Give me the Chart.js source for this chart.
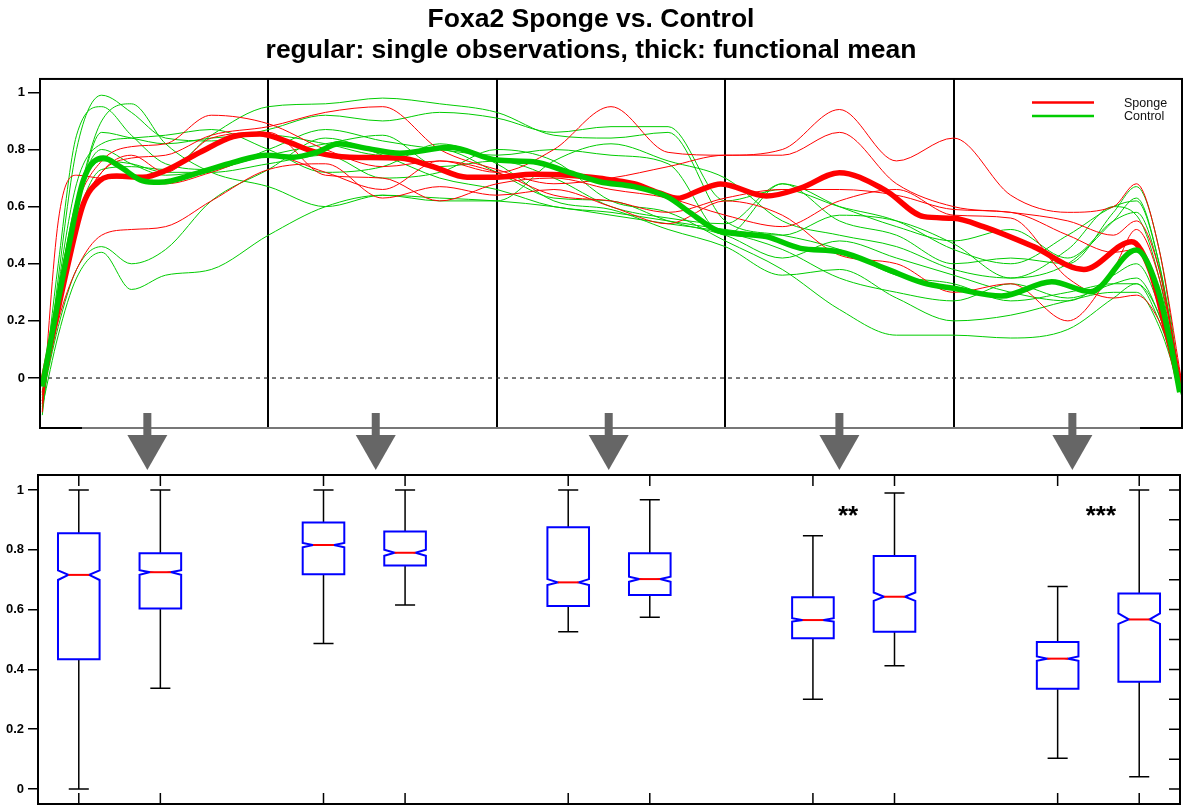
<!DOCTYPE html>
<html>
<head>
<meta charset="utf-8">
<title>Foxa2 Sponge vs. Control</title>
<script src="https://cdn.jsdelivr.net/npm/chart.js@4.4.0/dist/chart.umd.min.js"></script>
<style>
  body { margin: 0; background: #fff; }
  #wrap { position: relative; width: 1184px; height: 805px; }
  #curves { position: absolute; left: 0; top: 0; }
  #boxes { position: absolute; left: 0; top: 430px; }
</style>
</head>
<body>
<div id="wrap">
  <canvas id="curves" width="1184" height="475"></canvas>
  <canvas id="boxes" width="1184" height="375"></canvas>
</div>
<script>
// ---- top panel: curves, x in segment units (0..5) ----
var titleLines = ['Foxa2 Sponge vs. Control', 'regular: single observations, thick: functional mean'];
var segEdges = [0, 1, 2, 3, 4, 5];
var yTicksTop = [0, 0.2, 0.4, 0.6, 0.8, 1];
var arrowAt = [0.47, 1.47, 2.49, 3.5, 4.52];
var legendNames = ['Sponge', 'Control'];

var gridU = [0.01, 0.08, 0.16, 0.27, 0.4, 0.55, 0.75, 1, 1.25, 1.5, 1.75, 2, 2.25, 2.5, 2.75, 3, 3.25, 3.5, 3.75, 4, 4.25, 4.5, 4.7, 4.8, 4.9, 5];

var sponge = [
  [-0.08, 0.30, 0.60, 0.76, 0.81, 0.82, 0.92, 0.89, 0.80, 0.74, 0.76, 0.72, 0.80, 0.95, 0.79, 0.78, 0.80, 0.94, 0.76, 0.84, 0.64, 0.58, 0.60, 0.68, 0.45, -0.02],
  [-0.05, 0.25, 0.55, 0.72, 0.77, 0.78, 0.85, 0.88, 0.93, 0.95, 0.80, 0.73, 0.68, 0.70, 0.74, 0.78, 0.78, 0.86, 0.68, 0.60, 0.58, 0.55, 0.50, 0.55, 0.38, -0.04],
  [-0.12, 0.55, 0.71, 0.70, 0.70, 0.68, 0.72, 0.78, 0.72, 0.66, 0.76, 0.72, 0.64, 0.62, 0.58, 0.63, 0.66, 0.66, 0.64, 0.59, 0.58, 0.50, 0.44, 0.45, 0.30, -0.04],
  [-0.06, 0.20, 0.38, 0.50, 0.52, 0.53, 0.62, 0.73, 0.75, 0.63, 0.67, 0.64, 0.66, 0.60, 0.54, 0.62, 0.57, 0.43, 0.40, 0.30, 0.33, 0.20, 0.38, 0.52, 0.35, -0.02],
  [-0.09, 0.28, 0.55, 0.72, 0.78, 0.72, 0.84, 0.86, 0.71, 0.70, 0.62, 0.68, 0.70, 0.66, 0.63, 0.57, 0.53, 0.62, 0.66, 0.57, 0.56, 0.35, 0.28, 0.29, 0.20, -0.02]
];

var control = [
  [-0.13, 0.35, 0.80, 0.99, 0.93, 0.84, 0.83, 0.87, 0.92, 0.90, 0.93, 0.91, 0.86, 0.88, 0.88, 0.62, 0.66, 0.60, 0.55, 0.45, 0.40, 0.50, 0.60, 0.62, 0.40, -0.05],
  [-0.08, 0.40, 0.85, 0.95, 0.85, 0.75, 0.73, 0.80, 0.87, 0.83, 0.80, 0.78, 0.80, 0.78, 0.75, 0.50, 0.68, 0.55, 0.50, 0.40, 0.42, 0.40, 0.58, 0.67, 0.45, -0.06],
  [-0.06, 0.25, 0.60, 0.90, 0.96, 0.82, 0.72, 0.67, 0.60, 0.64, 0.62, 0.62, 0.76, 0.82, 0.76, 0.70, 0.55, 0.50, 0.46, 0.38, 0.35, 0.45, 0.60, 0.57, 0.35, -0.07],
  [-0.05, 0.22, 0.58, 0.86, 0.84, 0.82, 0.84, 0.85, 0.82, 0.78, 0.80, 0.72, 0.63, 0.62, 0.55, 0.50, 0.42, 0.48, 0.42, 0.36, 0.30, 0.27, 0.36, 0.40, 0.25, -0.05],
  [-0.09, 0.25, 0.55, 0.73, 0.74, 0.73, 0.85, 0.95, 0.96, 0.98, 0.96, 0.93, 0.85, 0.84, 0.86, 0.55, 0.50, 0.45, 0.36, 0.33, 0.27, 0.30, 0.33, 0.33, 0.20, -0.04],
  [-0.07, 0.18, 0.38, 0.46, 0.40, 0.45, 0.62, 0.73, 0.84, 0.78, 0.70, 0.66, 0.60, 0.58, 0.55, 0.52, 0.50, 0.57, 0.55, 0.47, 0.35, 0.40, 0.55, 0.63, 0.40, -0.06],
  [-0.10, 0.15, 0.35, 0.44, 0.31, 0.36, 0.38, 0.50, 0.60, 0.64, 0.63, 0.62, 0.60, 0.57, 0.54, 0.51, 0.45, 0.35, 0.30, 0.27, 0.33, 0.28, 0.33, 0.35, 0.22, -0.05],
  [-0.05, 0.30, 0.62, 0.76, 0.75, 0.72, 0.72, 0.75, 0.78, 0.70, 0.72, 0.80, 0.76, 0.62, 0.58, 0.48, 0.38, 0.24, 0.15, 0.15, 0.14, 0.17, 0.28, 0.33, 0.22, -0.06],
  [-0.08, 0.28, 0.62, 0.80, 0.75, 0.71, 0.73, 0.78, 0.82, 0.85, 0.74, 0.76, 0.70, 0.60, 0.56, 0.54, 0.68, 0.60, 0.53, 0.48, 0.52, 0.42, 0.55, 0.58, 0.38, -0.07],
  [-0.11, 0.32, 0.68, 0.82, 0.84, 0.85, 0.87, 0.80, 0.72, 0.74, 0.82, 0.75, 0.62, 0.59, 0.52, 0.46, 0.36, 0.38, 0.28, 0.20, 0.22, 0.27, 0.30, 0.30, 0.18, -0.06]
];

// functional means
var meanRedU = [0.01, 0.117, 0.19, 0.26, 0.336, 0.45, 0.555, 0.70, 0.846, 0.963, 1.065, 1.21, 1.357, 1.576, 1.72, 1.87, 2.0, 2.16, 2.31, 2.45, 2.6, 2.715, 2.79, 2.89, 2.98, 3.18, 3.33, 3.5, 3.70, 3.87, 4.0, 4.13, 4.35, 4.57, 4.78, 4.86, 4.93, 4.99];
var meanRedV = [-0.02, 0.378, 0.61, 0.69, 0.707, 0.703, 0.728, 0.79, 0.845, 0.854, 0.833, 0.79, 0.773, 0.77, 0.74, 0.703, 0.703, 0.713, 0.71, 0.699, 0.68, 0.647, 0.629, 0.658, 0.679, 0.637, 0.665, 0.719, 0.658, 0.565, 0.559, 0.53, 0.46, 0.38, 0.477, 0.378, 0.168, -0.03];
var meanGreenU = [0.01, 0.117, 0.19, 0.277, 0.35, 0.45, 0.52, 0.70, 0.846, 0.99, 1.11, 1.21, 1.31, 1.43, 1.576, 1.795, 2.0, 2.16, 2.31, 2.45, 2.6, 2.745, 2.85, 2.96, 3.03, 3.18, 3.33, 3.5, 3.7, 3.87, 4.0, 4.21, 4.43, 4.6, 4.80, 4.89, 4.95, 4.99];
var meanGreenV = [-0.03, 0.425, 0.693, 0.77, 0.74, 0.69, 0.685, 0.72, 0.755, 0.78, 0.773, 0.79, 0.82, 0.804, 0.787, 0.808, 0.763, 0.757, 0.722, 0.687, 0.67, 0.635, 0.577, 0.518, 0.507, 0.495, 0.454, 0.442, 0.384, 0.332, 0.314, 0.287, 0.337, 0.302, 0.448, 0.32, 0.12, -0.05];

// ---- bottom panel: notched box plots ----
var boxX     = [1, 2, 4, 5, 7, 8, 10, 11, 13, 14];
var boxGroup = ['Sponge', 'Control', 'Sponge', 'Control', 'Sponge', 'Control', 'Sponge', 'Control', 'Sponge', 'Control'];
var whiskHi  = [1.0, 1.0, 1.0, 1.0, 1.0, 0.967, 0.847, 0.99, 0.677, 1.0];
var q3       = [0.855, 0.788, 0.891, 0.861, 0.875, 0.788, 0.641, 0.779, 0.492, 0.654];
var notchHi  = [0.731, 0.732, 0.823, 0.80, 0.702, 0.71, 0.571, 0.657, 0.443, 0.587];
var median   = [0.716, 0.725, 0.816, 0.79, 0.691, 0.702, 0.565, 0.643, 0.436, 0.567];
var notchLo  = [0.699, 0.716, 0.808, 0.78, 0.682, 0.693, 0.56, 0.629, 0.429, 0.552];
var q1       = [0.434, 0.604, 0.718, 0.747, 0.612, 0.649, 0.504, 0.526, 0.335, 0.359];
var whiskLo  = [0.0, 0.337, 0.487, 0.615, 0.526, 0.574, 0.30, 0.412, 0.103, 0.041];
var yTicksBox = [0, 0.2, 0.4, 0.6, 0.8, 1];
var yMinorBox = [0, 0.1, 0.2, 0.3, 0.4, 0.5, 0.6, 0.7, 0.8, 0.9, 1];
var starText = ['**', '***'];
var starX = [10.43, 13.53];
var starY = [0.885, 0.885];

var FONT = "'Liberation Sans', Arial, Helvetica, sans-serif";
Chart.defaults.font.family = FONT;
Chart.defaults.color = '#000';
Chart.defaults.animation = false;

function pts(us, vs) {
  return us.map(function (u, i) { return { x: u, y: vs[i] }; });
}
function plainLabel(v) { return String(v); }
function noEdgePad(s, w) {
  s.width = w;
  s.paddingTop = 0;
  s.paddingBottom = 0;
}

var frame = {
  id: 'frame',
  afterDraw: function (chart) {
    var ctx = chart.ctx, a = chart.chartArea;
    ctx.save();
    ctx.strokeStyle = '#000';
    ctx.lineWidth = 2;
    ctx.strokeRect(a.left, a.top, a.right - a.left, a.bottom - a.top);
    ctx.restore();
  }
};

var curveExtras = {
  id: 'curveExtras',
  afterDraw: function (chart) {
    var ctx = chart.ctx, a = chart.chartArea, x = chart.scales.x;
    ctx.save();
    // grey strip along the bottom edge
    ctx.strokeStyle = '#777';
    ctx.lineWidth = 2;
    ctx.beginPath();
    ctx.moveTo(a.left + 42, a.bottom);
    ctx.lineTo(a.right - 42, a.bottom);
    ctx.stroke();
    // arrows down to the boxplots
    ctx.fillStyle = '#666';
    arrowAt.forEach(function (u) {
      var cx = x.getPixelForValue(u);
      ctx.fillRect(cx - 4, a.bottom - 15, 8, 23);
      ctx.beginPath();
      ctx.moveTo(cx - 20, a.bottom + 7);
      ctx.lineTo(cx + 20, a.bottom + 7);
      ctx.lineTo(cx, a.bottom + 42);
      ctx.closePath();
      ctx.fill();
    });
    // legend
    var cols = ['#ff0000', '#00cc00'];
    ctx.font = '12.5px ' + FONT;
    ctx.textBaseline = 'middle';
    legendNames.forEach(function (name, i) {
      var y = a.top + 23.5 + i * 13.5;
      ctx.strokeStyle = cols[i];
      ctx.lineWidth = 2.5;
      ctx.beginPath();
      ctx.moveTo(a.right - 150, y);
      ctx.lineTo(a.right - 88, y);
      ctx.stroke();
      ctx.fillStyle = '#111';
      ctx.fillText(name, a.right - 58, y + 1);
    });
    ctx.restore();
  }
};

var datasets = [
  { label: 'Control mean', data: pts(meanGreenU, meanGreenV), borderColor: '#00c800', borderWidth: 5.5, order: 0 },
  { label: 'Sponge mean', data: pts(meanRedU, meanRedV), borderColor: '#ff0000', borderWidth: 5.5, order: 1 }
];
sponge.forEach(function (s, i) {
  datasets.push({ label: 'Sponge ' + (i + 1), data: pts(gridU, s), borderColor: '#ff0000', borderWidth: 1, order: 2 });
});
control.forEach(function (s, i) {
  datasets.push({ label: 'Control ' + (i + 1), data: pts(gridU, s), borderColor: '#00cc00', borderWidth: 1, order: 3 });
});
datasets.push({ label: 'zero', data: [{ x: 0, y: 0 }, { x: 5, y: 0 }], borderColor: '#222', borderWidth: 1.2, borderDash: [4, 4], order: 4, cubicInterpolationMode: 'default', tension: 0 });

new Chart(document.getElementById('curves'), {
  type: 'line',
  data: { datasets: datasets },
  options: {
    responsive: false,
    layout: { padding: { left: 0, right: 2, top: 0, bottom: 47 } },
    elements: {
      point: { radius: 0 },
      line: { cubicInterpolationMode: 'monotone', fill: false }
    },
    plugins: {
      legend: { display: false },
      tooltip: { enabled: false },
      title: {
        display: true,
        text: titleLines,
        color: '#000',
        font: { size: 26.5, weight: 'bold', lineHeight: 1.15 },
        padding: { top: 4.5, bottom: 13.5 }
      }
    },
    scales: {
      x: {
        type: 'linear', min: 0, max: 5,
        afterBuildTicks: function (s) { s.ticks = segEdges.map(function (v) { return { value: v }; }); },
        afterFit: function (s) { s.height = 0; },
        ticks: { display: false },
        grid: { color: '#000', lineWidth: 2, drawTicks: false },
        border: { display: true, color: '#000', width: 2 }
      },
      y: {
        min: -0.175, max: 1.047,
        afterBuildTicks: function (s) { s.ticks = yTicksTop.map(function (v) { return { value: v }; }); },
        afterFit: function (s) { noEdgePad(s, 40); },
        ticks: { font: { size: 13, weight: 'bold' }, padding: 3, color: '#000', callback: plainLabel },
        grid: { drawOnChartArea: false, drawTicks: true, tickLength: 12, color: '#000', lineWidth: 1.5 },
        border: { display: true, color: '#000', width: 2 }
      }
    }
  },
  plugins: [frame, curveExtras]
});

var boxDraw = {
  id: 'notchedBoxes',
  afterDatasetsDraw: function (chart) {
    var ctx = chart.ctx, a = chart.chartArea, x = chart.scales.x, y = chart.scales.y;
    var unit = x.getPixelForValue(1) - x.getPixelForValue(0);
    var half = 0.255 * unit, inner = half / 2, cap = 0.123 * unit;
    ctx.save();
    boxX.forEach(function (bx, i) {
      var cx = x.getPixelForValue(bx);
      var pHi = y.getPixelForValue(whiskHi[i]), pLo = y.getPixelForValue(whiskLo[i]);
      var pQ3 = y.getPixelForValue(q3[i]), pQ1 = y.getPixelForValue(q1[i]);
      var pNH = y.getPixelForValue(notchHi[i]), pNL = y.getPixelForValue(notchLo[i]);
      var pM = y.getPixelForValue(median[i]);
      // whiskers
      ctx.strokeStyle = '#000';
      ctx.lineWidth = 1.5;
      ctx.beginPath();
      ctx.moveTo(cx, pQ3); ctx.lineTo(cx, pHi);
      ctx.moveTo(cx - cap, pHi); ctx.lineTo(cx + cap, pHi);
      ctx.moveTo(cx, pQ1); ctx.lineTo(cx, pLo);
      ctx.moveTo(cx - cap, pLo); ctx.lineTo(cx + cap, pLo);
      ctx.stroke();
      // notched box
      ctx.fillStyle = '#fff';
      ctx.strokeStyle = '#0000ff';
      ctx.lineWidth = 2;
      ctx.beginPath();
      ctx.moveTo(cx - half, pQ3);
      ctx.lineTo(cx + half, pQ3);
      ctx.lineTo(cx + half, pNH);
      ctx.lineTo(cx + inner, pM);
      ctx.lineTo(cx + half, pNL);
      ctx.lineTo(cx + half, pQ1);
      ctx.lineTo(cx - half, pQ1);
      ctx.lineTo(cx - half, pNL);
      ctx.lineTo(cx - inner, pM);
      ctx.lineTo(cx - half, pNH);
      ctx.closePath();
      ctx.fill();
      ctx.stroke();
      // median
      ctx.strokeStyle = '#ff0000';
      ctx.beginPath();
      ctx.moveTo(cx - inner, pM); ctx.lineTo(cx + inner, pM);
      ctx.stroke();
      // inward ticks top and bottom
      ctx.strokeStyle = '#000';
      ctx.lineWidth = 1.5;
      ctx.beginPath();
      ctx.moveTo(cx, a.top); ctx.lineTo(cx, a.top + 11);
      ctx.moveTo(cx, a.bottom); ctx.lineTo(cx, a.bottom - 11);
      ctx.stroke();
    });
    // inward minor ticks on the right
    ctx.beginPath();
    yMinorBox.forEach(function (v) {
      var py = y.getPixelForValue(v);
      ctx.moveTo(a.right, py); ctx.lineTo(a.right - 11, py);
    });
    ctx.stroke();
    // significance stars
    ctx.fillStyle = '#000';
    ctx.font = 'bold 26px ' + FONT;
    ctx.textAlign = 'center';
    ctx.textBaseline = 'alphabetic';
    starText.forEach(function (t, i) {
      ctx.fillText(t, x.getPixelForValue(starX[i]), y.getPixelForValue(starY[i]));
    });
    ctx.restore();
  }
};

new Chart(document.getElementById('boxes'), {
  type: 'scatter',
  data: {
    datasets: [{
      label: 'median',
      data: pts(boxX, median),
      pointRadius: 0,
      showLine: false
    }]
  },
  options: {
    responsive: false,
    layout: { padding: { left: 0, right: 4, top: 45, bottom: 1 } },
    plugins: { legend: { display: false }, tooltip: { enabled: false } },
    scales: {
      x: {
        type: 'linear', min: 0.5, max: 14.5,
        afterFit: function (s) { s.height = 0; s.paddingLeft = 0; s.paddingRight = 0; },
        ticks: { display: false },
        grid: { display: false },
        border: { display: true, color: '#000', width: 2 }
      },
      y: {
        min: -0.05, max: 1.05,
        afterBuildTicks: function (s) { s.ticks = yTicksBox.map(function (v) { return { value: v }; }); },
        afterFit: function (s) { noEdgePad(s, 38); },
        ticks: { font: { size: 13, weight: 'bold' }, padding: 4, color: '#000', callback: plainLabel },
        grid: { drawOnChartArea: false, drawTicks: true, tickLength: 10, color: '#000', lineWidth: 1.5 },
        border: { display: true, color: '#000', width: 2 }
      }
    }
  },
  plugins: [frame, boxDraw]
});
</script>
</body>
</html>
